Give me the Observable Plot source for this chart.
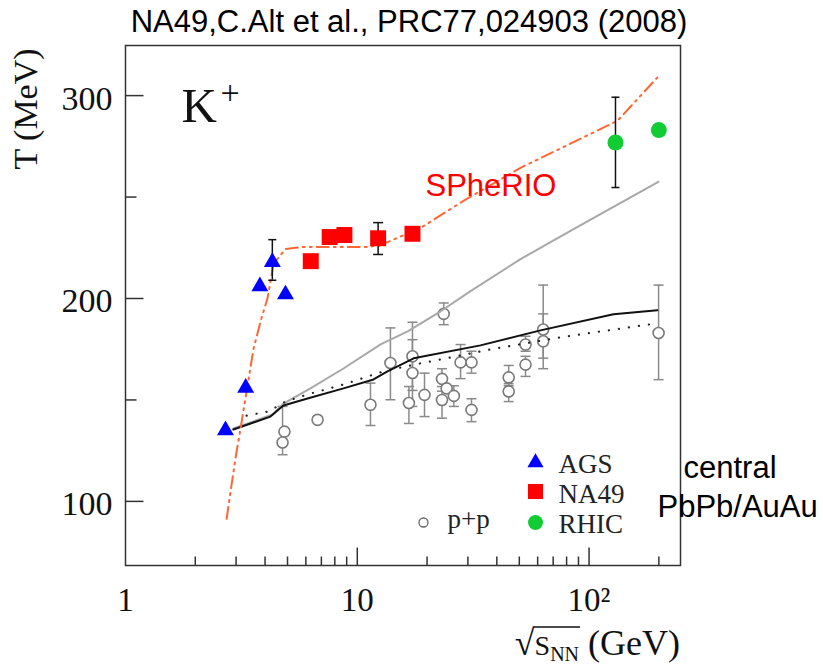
<!DOCTYPE html>
<html><head><meta charset="utf-8">
<script src="https://cdn.jsdelivr.net/npm/d3@7"></script>
<script src="https://cdn.jsdelivr.net/npm/@observablehq/plot@0.6"></script>
<style>body{margin:0;background:#fff}#chart{width:823px;height:670px}</style>
</head><body><div id="chart"></div>
<script>
// ---------------- data ----------------
const titleText = "NA49,C.Alt et al., PRC77,024903 (2008)";
const yLabelText = "T (MeV)";
const yMajorTicks = [100, 200, 300];
const yMinorTicks = [150, 250];
const xMajorTicks = [10, 100];
const xMinorTicks = [2, 3, 4, 5, 6, 7, 8, 9, 20, 30, 40, 50, 60, 70, 80, 90, 200];
const xTickLabels = ["1", "10", "10²"];
const xTickValues = [1, 10, 100];

const agsX = [2.7, 3.3, 3.8, 4.3, 4.9];
const agsT = [135, 156, 206, 218, 202];
const agsErrX = [4.3], agsErrLo = [209], agsErrHi = [229];

const na49X = [6.3, 7.6, 8.8, 12.3, 17.3];
const na49T = [218.4, 230.3, 231.3, 229.7, 231.9];
const na49ErrX = [12.3], na49ErrLo = [221.7], na49ErrHi = [237.4];

const rhicX = [130, 200];
const rhicT = [276.9, 283.0];
const rhicErrX = [130], rhicErrLo = [254.7], rhicErrHi = [299.2];

const ppX = [4.85, 4.76, 6.74, 11.4, 13.9, 17.3, 17.3, 16.7, 19.5, 23.6, 23.2, 23.2, 24.3, 26.1, 27.9, 31.1, 31.1, 45.0, 45.0, 53.2, 53.2, 63.4, 63.4, 199.5];
const ppT = [134.4, 129.0, 140.2, 147.6, 168.2, 171.5, 163.3, 148.5, 152.5, 192.4, 160.4, 150.0, 155.7, 152.0, 168.5, 168.5, 145.1, 161.1, 154.2, 177.3, 167.4, 184.7, 178.9, 183.0];
const ppLo = [null, 123.0, null, 137.4, 150.1, 154.7, 146.8, 138.4, 141.8, 187.1, 154.3, 141.0, null, 146.8, 160.5, 163.2, 139.3, 157.0, 149.2, 174.0, 161.6, 165.4, 170.6, 160.0];
const ppHi = [null, 146.8, null, 158.3, 185.5, 188.3, 179.7, 156.6, 163.2, 197.8, 165.4, 156.6, null, 157.0, 177.3, 174.0, 150.6, 167.0, 158.0, 181.4, 171.5, 206.6, 192.4, 206.6];

const spherioX = [2.73, 2.98, 3.13, 3.57, 3.86, 4.10, 4.35, 4.90, 5.86, 7.89, 11.1, 12.6, 18.7, 28.7, 50.6, 83.1, 132.6, 197];
const spherioT = [91.4, 121.1, 135.4, 175.4, 190.3, 200.1, 217.0, 224.4, 225.4, 225.4, 225.4, 226.3, 234.7, 248.1, 264.4, 276.3, 287.6, 308.9];

const grayX = [2.92, 4.31, 4.80, 6.28, 8.72, 12.6, 16.5, 22.9, 30.8, 50.6, 83.1, 199];
const grayT = [135.9, 142.8, 148.2, 155.7, 165.5, 177.4, 183.8, 193.7, 203.6, 219.4, 233.3, 257.5];

const blackX = [2.92, 4.22, 4.80, 6.10, 8.72, 11.75, 13.5, 17.5, 34.0, 61.7, 127.4, 197];
const blackT = [135.4, 141.8, 147.3, 150.7, 155.7, 160.1, 164.1, 170.5, 176.9, 184.3, 192.2, 194.2];

const dottedX = [3.33, 4.14, 4.90, 6.10, 8.72, 12.97, 18.7, 37.6, 75.3, 184];
const dottedT = [142.3, 144.3, 149.2, 152.7, 157.6, 164.1, 168.0, 174.9, 180.9, 187.3];

// ---------------- helpers ----------------
const serif = "Liberation Serif, Times New Roman, serif";
const sans = "Liberation Sans, Arial, sans-serif";
const rows = (xs, ts) => xs.map((x, i) => ({x, t: ts[i]}));
const errRows = (xs, lo, hi) => xs.map((x, i) => ({x, lo: lo[i], hi: hi[i]})).filter(d => d.lo != null);
const hLine = (a, b) => ({draw(c) { c.moveTo(a, 0); c.lineTo(b, 0); }});
const vLine = (a, b) => ({draw(c) { c.moveTo(0, a); c.lineTo(0, b); }});

const ags = rows(agsX, agsT), na49 = rows(na49X, na49T), rhic = rows(rhicX, rhicT);
const pp = rows(ppX, ppT);
const ppErr = errRows(ppX, ppLo, ppHi);
const agsErr = errRows(agsErrX, agsErrLo, agsErrHi);
const na49Err = errRows(na49ErrX, na49ErrLo, na49ErrHi);
const rhicErr = errRows(rhicErrX, rhicErrLo, rhicErrHi);

function errMarks(data, color, capHalf, width) {
  return [
    Plot.ruleX(data, {x: "x", y1: "lo", y2: "hi", stroke: color, strokeWidth: width}),
    Plot.dot(data, {x: "x", y: "lo", symbol: hLine(-capHalf, capHalf), r: 3, fill: "none", stroke: color, strokeWidth: width}),
    Plot.dot(data, {x: "x", y: "hi", symbol: hLine(-capHalf, capHalf), r: 3, fill: "none", stroke: color, strokeWidth: width})
  ];
}
const axisColor = "#333";
const BR = "bottom-right", TL = "top-left";

const chart = Plot.plot({
  width: 823, height: 670,
  marginLeft: 125, marginRight: 143, marginTop: 45, marginBottom: 105,
  style: {background: "white", overflow: "visible"},
  x: {type: "log", domain: [1, 248], axis: null},
  y: {domain: [68.4, 324.7], axis: null},
  marks: [
    // p+p data
    ...errMarks(ppErr, "#8a8a8a", 5, 1.5),
    Plot.dot(pp, {x: "x", y: "t", r: 5.5, fill: "white", stroke: "#7a7a7a", strokeWidth: 1.6}),
    // model curves
    Plot.line(rows(grayX, grayT), {x: "x", y: "t", stroke: "#a8a8a8", strokeWidth: 2}),
    Plot.line(rows(dottedX, dottedT), {x: "x", y: "t", stroke: "#222", strokeWidth: 2.2, strokeLinecap: "round", strokeDasharray: "0.1,10"}),
    Plot.line(rows(blackX, blackT), {x: "x", y: "t", stroke: "#111", strokeWidth: 2}),
    Plot.line(rows(spherioX, spherioT), {x: "x", y: "t", stroke: "#ff6633", strokeWidth: 2, strokeDasharray: "12,5,2,5,2,5"}),
    // heavy-ion data
    ...errMarks(agsErr, "#111", 4, 1.5),
    ...errMarks(na49Err, "#111", 5, 1.5),
    ...errMarks(rhicErr, "#111", 4, 1.5),
    Plot.dot(ags, {x: "x", y: "t", symbol: "triangle", r: 6.3, fill: "#0000ff"}),
    Plot.dot(na49, {x: "x", y: "t", symbol: "square", r: 9, fill: "#ff0000"}),
    Plot.dot(rhic, {x: "x", y: "t", r: 8, fill: "#11cc33"}),
    // frame & ticks
    Plot.frame({stroke: axisColor, strokeWidth: 1.5}),
    Plot.dot(yMajorTicks, {y: d => d, frameAnchor: "left", symbol: hLine(0, 18), r: 3, fill: "none", stroke: axisColor, strokeWidth: 1.5}),
    Plot.dot(yMinorTicks, {y: d => d, frameAnchor: "left", symbol: hLine(0, 11), r: 3, fill: "none", stroke: axisColor, strokeWidth: 1.5}),
    Plot.dot(xMajorTicks, {x: d => d, frameAnchor: "bottom", symbol: vLine(0, -18), r: 3, fill: "none", stroke: axisColor, strokeWidth: 1.5}),
    Plot.dot(xMinorTicks, {x: d => d, frameAnchor: "bottom", symbol: vLine(0, -9), r: 3, fill: "none", stroke: axisColor, strokeWidth: 1.5}),
    Plot.text(yMajorTicks, {y: d => d, text: d => String(d), frameAnchor: "left", dx: -13, dy: 3, textAnchor: "end", fontSize: 34, fontFamily: serif, fill: "#111"}),
    Plot.text(xTickValues, {x: d => d, text: (d, i) => xTickLabels[i], frameAnchor: "bottom", dy: 45, fontSize: 33, fontFamily: serif, fill: "#111"}),
    // annotations
    Plot.text([titleText], {text: d => d, frameAnchor: "top", dx: 6, dy: -14, lineAnchor: "bottom", fontSize: 31, fontFamily: sans, fill: "#000"}),
    Plot.text(["K"], {text: d => d, frameAnchor: TL, dx: 56, dy: 76, textAnchor: "start", lineAnchor: "bottom", fontSize: 49, fontFamily: serif, fill: "#111"}),
    Plot.text(["+"], {text: d => d, frameAnchor: TL, dx: 95, dy: 58, textAnchor: "start", lineAnchor: "bottom", fontSize: 34, fontFamily: serif, fill: "#111"}),
    Plot.text(["SPheRIO"], {text: d => d, frameAnchor: TL, dx: 300, dy: 150, textAnchor: "start", lineAnchor: "bottom", fontSize: 31, fontFamily: sans, fill: "#ff0000"}),
    Plot.text(["central"], {text: d => d, frameAnchor: BR, dx: 3, dy: -88, textAnchor: "start", lineAnchor: "bottom", fontSize: 31, fontFamily: sans, fill: "#000"}),
    Plot.text(["PbPb/AuAu"], {text: d => d, frameAnchor: BR, dx: -23, dy: -49, textAnchor: "start", lineAnchor: "bottom", fontSize: 31, fontFamily: sans, fill: "#000"}),
    // legend
    Plot.dot([0], {frameAnchor: BR, dx: -145, dy: -103, symbol: "triangle", r: 6, fill: "#0000ff"}),
    Plot.dot([0], {frameAnchor: BR, dx: -145, dy: -74, symbol: "square", r: 8.5, fill: "#ff0000"}),
    Plot.dot([0], {frameAnchor: BR, dx: -145, dy: -43, r: 7.5, fill: "#11cc33"}),
    Plot.dot([0], {frameAnchor: BR, dx: -257, dy: -43, r: 4.5, fill: "white", stroke: "#666", strokeWidth: 1.3}),
    Plot.text(["AGS"], {text: d => d, frameAnchor: BR, dx: -122, dy: -93, textAnchor: "start", lineAnchor: "bottom", fontSize: 27, fontFamily: serif, fill: "#222"}),
    Plot.text(["NA49"], {text: d => d, frameAnchor: BR, dx: -122, dy: -63, textAnchor: "start", lineAnchor: "bottom", fontSize: 27, fontFamily: serif, fill: "#222"}),
    Plot.text(["RHIC"], {text: d => d, frameAnchor: BR, dx: -122, dy: -33, textAnchor: "start", lineAnchor: "bottom", fontSize: 27, fontFamily: serif, fill: "#222"}),
    Plot.text(["p+p"], {text: d => d, frameAnchor: BR, dx: -233, dy: -38, textAnchor: "start", lineAnchor: "bottom", fontSize: 27, fontFamily: serif, fill: "#222"})
  ]
});
document.getElementById("chart").appendChild(chart);

const svg = d3.select(chart);
// y-axis label
svg.append("text").attr("transform", "translate(37,109) rotate(-90)").attr("text-anchor", "middle")
  .attr("font-family", serif).attr("font-size", 34).attr("fill", "#111").text(yLabelText);

// x-axis label: sqrt(s_NN) (GeV)
const lab = svg.append("text").attr("x", 680).attr("y", 655).attr("text-anchor", "end")
  .attr("font-family", serif).attr("font-size", 36).attr("fill", "#111");
lab.append("tspan").text("√");
lab.append("tspan").attr("font-size", 28).text("S");
lab.append("tspan").attr("font-size", 20).attr("dy", 6).text("NN");
lab.append("tspan").attr("font-size", 36).attr("dy", -6).text(" (GeV)");
try {
  const n = lab.node();
  const r0 = n.getExtentOfChar(0);
  const x1 = n.getEndPositionOfChar(3).x;
  svg.append("line").attr("x1", r0.x + r0.width - 1).attr("x2", x1 + 1)
    .attr("y1", r0.y + 4).attr("y2", r0.y + 4).attr("stroke", "#111").attr("stroke-width", 1.4);
} catch (e) {}
</script></body></html>
